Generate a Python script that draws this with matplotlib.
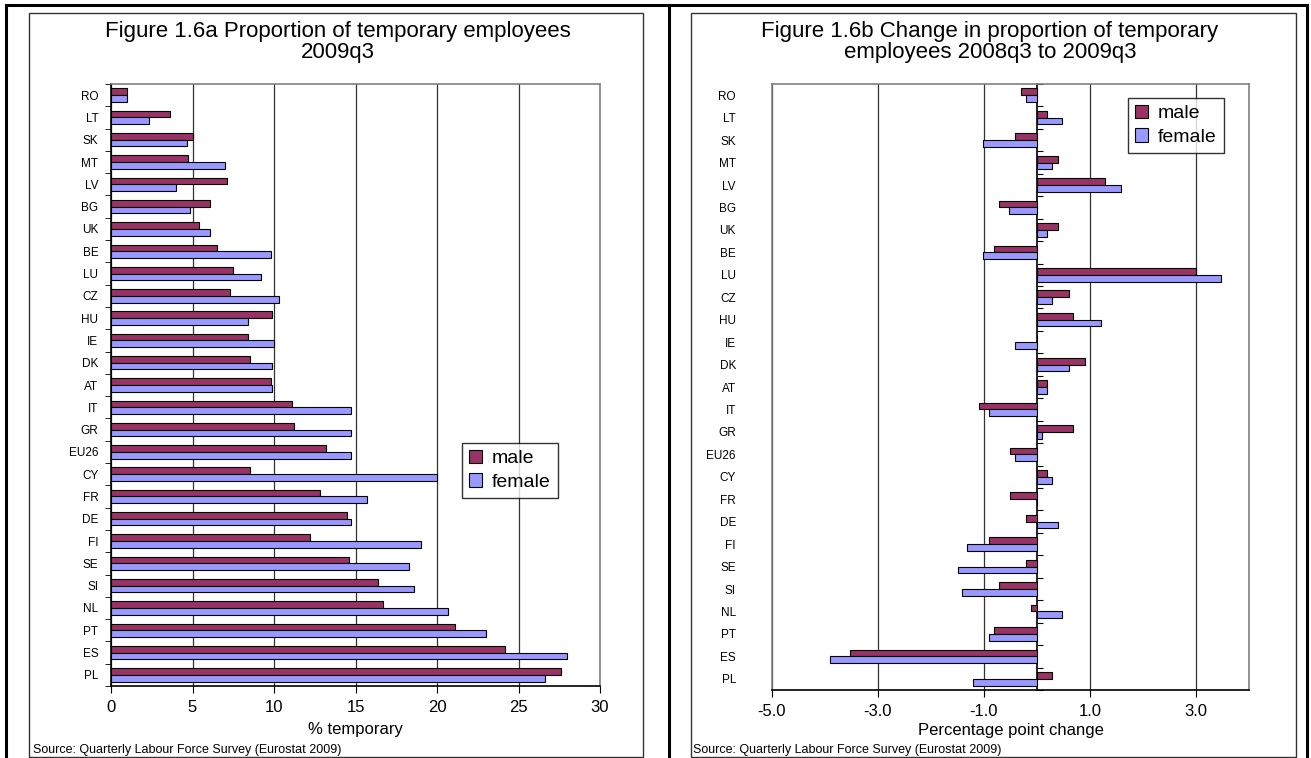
import numpy as np
import matplotlib.pyplot as plt
from matplotlib.lines import Line2D
from matplotlib.patches import Rectangle

plt.rcParams['font.family'] = ['Liberation Sans', 'DejaVu Sans']

# Data
countries = ['RO', 'LT', 'SK', 'MT', 'LV', 'BG', 'UK', 'BE', 'LU', 'CZ', 'HU', 'IE', 'DK', 'AT',
             'IT', 'GR', 'EU26', 'CY', 'FR', 'DE', 'FI', 'SE', 'SI', 'NL', 'PT', 'ES', 'PL']

# Figure 1.6a: % temporary employees, 2009q3
male_2009 = [1.0, 3.6, 5.0, 4.75, 7.1, 6.1, 5.4, 6.5, 7.5, 7.3, 9.9, 8.4, 8.5, 9.8,
             11.1, 11.2, 13.2, 8.5, 12.8, 14.5, 12.2, 14.6, 16.4, 16.7, 21.1, 24.2, 27.6]
female_2009 = [1.0, 2.35, 4.65, 7.0, 4.0, 4.85, 6.1, 9.8, 9.2, 10.3, 8.4, 10.0, 9.9, 9.9,
               14.7, 14.7, 14.7, 20.0, 15.7, 14.7, 19.0, 18.3, 18.6, 20.7, 23.0, 28.0, 26.6]

# Figure 1.6b: percentage point change 2008q3 -> 2009q3
male_change = [-0.30, 0.18, -0.42, 0.39, 1.29, -0.72, 0.39, -0.82, 3.00, 0.60, 0.68, 0.00, 0.90, 0.18,
               -1.10, 0.68, -0.51, 0.18, -0.51, -0.21, -0.91, -0.21, -0.72, -0.12, -0.82, -3.52, 0.29]
female_change = [-0.21, 0.47, -1.02, 0.29, 1.59, -0.52, 0.18, -1.02, 3.48, 0.29, 1.20, -0.42, 0.60, 0.18,
                 -0.91, 0.09, -0.42, 0.29, 0.00, 0.39, -1.32, -1.50, -1.42, 0.47, -0.91, -3.90, -1.20]

MALE = '#993366'
FEMALE = '#9999FF'
W, H = 1311, 758

fig = plt.figure(figsize=(W / 100, H / 100), dpi=100)


def fx(px):
    return px / W


def fy(py):
    return 1 - py / H


def draw_bars(ax, male, female):
    y = np.arange(len(countries))
    ax.barh(y - 0.15, male, height=0.3, color=MALE, edgecolor='black', linewidth=0.8,
            label='male', zorder=3)
    ax.barh(y + 0.15, female, height=0.3, color=FEMALE, edgecolor='black', linewidth=0.8,
            label='female', zorder=3)
    ax.set_ylim(len(countries) - 0.5, -0.5)
    ax.set_yticks(y)
    ax.set_yticklabels(countries, fontsize=8.5)
    ax.set_yticks(np.arange(len(countries) + 1) - 0.5, minor=True)
    ax.tick_params(axis='y', which='major', length=0)
    ax.tick_params(axis='x', labelsize=12, direction='out', length=5, pad=5)
    ax.grid(axis='x', color='#333333', linewidth=0.9)
    ax.set_axisbelow(True)
    for s in ax.spines.values():
        s.set_color('#808080')
        s.set_linewidth(1.2)
    ax.spines['bottom'].set_color('black')


def add_legend(ax, x, y):
    leg = ax.legend(loc='upper left', bbox_to_anchor=(fx(x), fy(y)),
                    bbox_transform=fig.transFigure, fontsize=14, frameon=True, fancybox=False,
                    edgecolor='black', handlelength=0.7, handleheight=0.7, handletextpad=0.5,
                    borderpad=0.35, labelspacing=0.3, borderaxespad=0)
    leg.get_frame().set_linewidth(1)


# ---------- left panel ----------
ax1 = fig.add_axes([fx(111), fy(686), fx(600 - 111), (686 - 84) / H])
draw_bars(ax1, male_2009, female_2009)
ax1.set_xlim(0, 30)
ax1.set_xticks(np.arange(0, 31, 5))
ax1.spines['left'].set_color('black')
ax1.tick_params(axis='y', which='minor', length=4, direction='out')
ax1.tick_params(axis='y', which='major', pad=9)
ax1.set_xlabel('% temporary', fontsize=12, labelpad=5)
add_legend(ax1, 462, 443)

# ---------- right panel ----------
ax2 = fig.add_axes([fx(772), fy(690), fx(1249 - 772), (690 - 84) / H])
draw_bars(ax2, male_change, female_change)
ax2.set_xlim(-5, 4)
ax2.set_xticks(np.arange(-5, 4, 2))
ax2.set_xticklabels([f'{v:.1f}' for v in np.arange(-5, 4, 2)])
ax2.tick_params(axis='y', which='minor', length=0)
ax2.tick_params(axis='y', which='major', pad=26)
ax2.set_xlabel('Percentage point change', fontsize=12, labelpad=3)
# zero axis with category tick marks
xmin, xmax = ax2.get_xlim()
zax = ax2.secondary_yaxis((0 - xmin) / (xmax - xmin))
zax.set_yticks(np.arange(len(countries) + 1) - 0.5)
zax.set_yticklabels([])
zax.tick_params(length=4, direction='out', color='black')
for s in zax.spines.values():
    s.set_color('black')
    s.set_linewidth(1.2)
add_legend(ax2, 1128, 98)

# ---------- titles and source notes ----------
fig.text(fx(338), fy(42), 'Figure 1.6a Proportion of temporary employees\n2009q3',
         ha='center', va='center', fontsize=16, linespacing=1.0)
fig.text(fx(990), fy(42), 'Figure 1.6b Change in proportion of temporary\nemployees 2008q3 to 2009q3',
         ha='center', va='center', fontsize=16, linespacing=1.0)
fig.text(fx(33), fy(750), 'Source: Quarterly Labour Force Survey (Eurostat 2009)',
         ha='left', va='center', fontsize=9)
fig.text(fx(693), fy(750), 'Source: Quarterly Labour Force Survey (Eurostat 2009)',
         ha='left', va='center', fontsize=9)

# ---------- chart frames and page table borders ----------
for x0, x1 in [(29, 643), (691, 1296)]:
    fig.patches.append(Rectangle((fx(x0), fy(757)), fx(x1 - x0), (757 - 13) / H,
                                 transform=fig.transFigure, fill=False,
                                 edgecolor='#333333', linewidth=1))
for xs, ys in [((6, 1307), (5, 5)), ((6, 6), (5, 758)), ((669, 669), (5, 758)),
               ((1307, 1307), (5, 758))]:
    fig.lines.append(Line2D([fx(v) for v in xs], [fy(v) for v in ys],
                            transform=fig.transFigure, color='black', linewidth=2.2))

fig.savefig('out.png', dpi=100)
